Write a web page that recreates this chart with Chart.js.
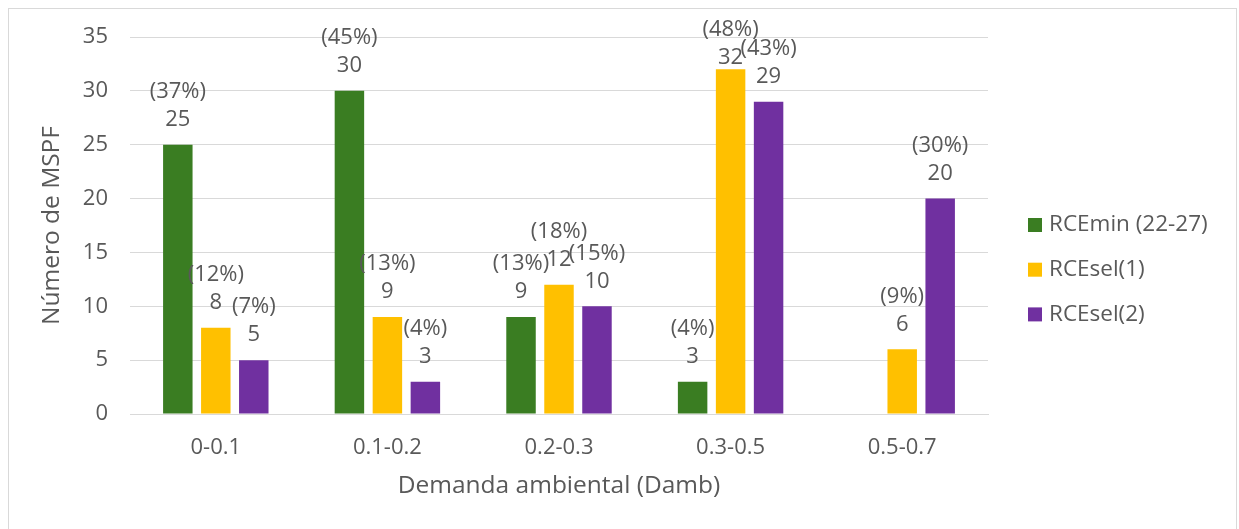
<!DOCTYPE html>
<html lang="es">
<head>
    <meta charset="UTF-8">
    <title>Número de MSPF por demanda ambiental</title>
    <script src="https://cdn.jsdelivr.net/npm/chart.js"></script>
    <style>
        html, body { margin: 0; padding: 0; background: #fff; }
        .chart-container { position: relative; width: 1239px; height: 529px; }
    </style>
</head>
<body>
    <div class="chart-container">
        <canvas id="mspfChart"></canvas>
    </div>

    <script>
        // Datos
        const categories = ['0-0.1', '0.1-0.2', '0.2-0.3', '0.3-0.5', '0.5-0.7'];
        const seriesNames = ['RCEmin (22-27)', 'RCEsel(1)', 'RCEsel(2)'];
        const rceMin = [25, 30, 9, 3, null];
        const rceSel1 = [8, 9, 12, 32, 6];
        const rceSel2 = [5, 3, 10, 29, 20];
        // porcentajes mostrados encima del valor
        const pctMin = [37, 45, 13, 4, null];
        const pctSel1 = [12, 13, 18, 48, 9];
        const pctSel2 = [7, 4, 15, 43, 30];
        const yTicks = [0, 5, 10, 15, 20, 25, 30, 35];

        const colors = ['#3a7d22', '#ffc000', '#7030a0'];
        const textColor = '#595959';
        const fontFamily = '"Open Sans", "DejaVu Sans", sans-serif';
        const percents = [pctMin, pctSel1, pctSel2];

        // Etiquetas: valor y (porcentaje) encima de cada barra
        const barLabels = {
            id: 'barLabels',
            afterDatasetsDraw(chart) {
                const ctx = chart.ctx;
                ctx.save();
                ctx.fillStyle = textColor;
                ctx.font = '22px ' + fontFamily;
                ctx.textAlign = 'center';
                ctx.textBaseline = 'middle';
                chart.data.datasets.forEach((ds, i) => {
                    chart.getDatasetMeta(i).data.forEach((bar, j) => {
                        const v = ds.data[j];
                        if (v === null || v === undefined) return;
                        // si la etiqueta se sale por arriba, se baja (como Excel)
                        const shift = Math.max(0, 30 - (bar.y - 53));
                        ctx.fillText(String(v), bar.x, bar.y - 25 + shift);
                        const p = percents[i][j];
                        if (p !== null) ctx.fillText('(' + p + '%)', bar.x, bar.y - 53 + shift);
                    });
                });
                ctx.restore();
            }
        };

        // Leyenda a la derecha y marco del gráfico
        const sideLegend = {
            id: 'sideLegend',
            afterDraw(chart) {
                const ctx = chart.ctx;
                ctx.save();
                ctx.strokeStyle = '#d9d9d9';
                ctx.lineWidth = 1;
                ctx.strokeRect(8.5, 8.5, 1228, 600);
                ctx.font = '22.5px ' + fontFamily;
                ctx.textBaseline = 'middle';
                ctx.textAlign = 'left';
                chart.data.datasets.forEach((ds, i) => {
                    const y = 225 + i * 44.7;
                    ctx.fillStyle = ds.backgroundColor;
                    ctx.fillRect(1028, y - 7, 14, 14);
                    ctx.fillStyle = textColor;
                    ctx.fillText(ds.label, 1049, y);
                });
                ctx.restore();
            }
        };

        const ctx = document.getElementById('mspfChart').getContext('2d');
        new Chart(ctx, {
            type: 'bar',
            data: {
                labels: categories,
                datasets: [rceMin, rceSel1, rceSel2].map((d, i) => ({
                    label: seriesNames[i],
                    data: d,
                    backgroundColor: colors[i],
                    categoryPercentage: 0.664,
                    barPercentage: 0.776
                }))
            },
            options: {
                responsive: true,
                maintainAspectRatio: false,
                animation: false,
                layout: { padding: { top: 37, right: 251, bottom: 28, left: 10 } },
                plugins: {
                    legend: { display: false },
                    tooltip: { enabled: false }
                },
                scales: {
                    x: {
                        afterFit(scale) { scale.height = 87; },
                        grid: { display: false, drawTicks: false },
                        border: { color: '#d9d9d9', width: 1 },
                        ticks: {
                            color: textColor,
                            padding: 21,
                            font: { size: 22, family: fontFamily }
                        },
                        title: {
                            display: true,
                            text: 'Demanda ambiental (Damb)',
                            color: textColor,
                            padding: { top: 10, bottom: 0 },
                            font: { size: 24.5, family: fontFamily }
                        }
                    },
                    y: {
                        min: 0,
                        max: 35,
                        afterFit(scale) { scale.width = 120; },
                        afterBuildTicks(scale) { scale.ticks = yTicks.map(v => ({ value: v })); },
                        grid: { color: '#d9d9d9', lineWidth: 1, drawTicks: false },
                        border: { display: false },
                        ticks: {
                            color: textColor,
                            padding: 22,
                            font: { size: 22, family: fontFamily }
                        },
                        title: {
                            display: true,
                            text: 'Número de MSPF',
                            color: textColor,
                            padding: { top: 27, bottom: 0 },
                            font: { size: 24.5, family: fontFamily }
                        }
                    }
                }
            },
            plugins: [barLabels, sideLegend]
        });
    </script>
</body>
</html>
